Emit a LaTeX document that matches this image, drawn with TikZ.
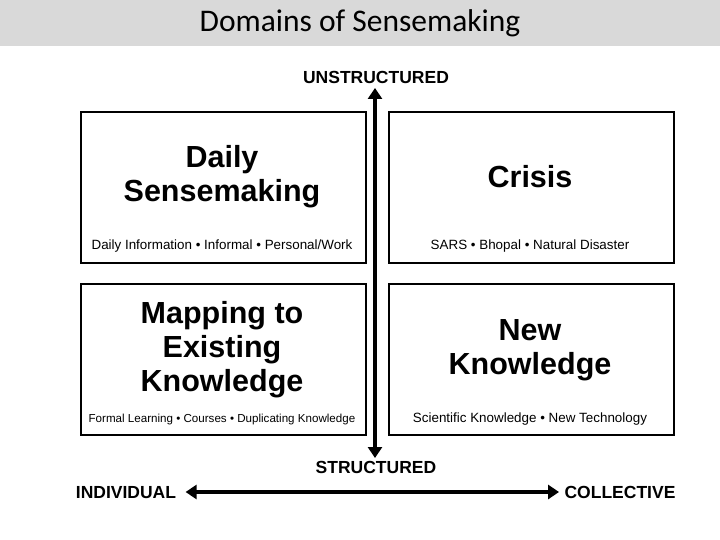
\documentclass[tikz,border=0pt]{standalone}
\usepackage{fontspec}
\setmainfont{Liberation Sans}
\newfontfamily\titlefont{Carlito}
\usetikzlibrary{arrows.meta}
\begin{document}
\begin{tikzpicture}[x=1pt,y=-1pt,
  box/.style={draw=black,line width=1.6pt,minimum width=285pt,minimum height=151pt,anchor=north west,inner sep=0pt},
  head/.style={font=\bfseries\fontsize{30.5}{34}\selectfont,align=center},
  sub/.style={font=\fontsize{13.4}{15}\selectfont},
  axis/.style={font=\bfseries\fontsize{17.5}{20}\selectfont,text depth=0pt,text height=12.5pt},
  arr/.style={line width=4.5pt,{Triangle[length=11pt,width=14pt]}-{Triangle[length=11pt,width=14pt]}}]
\useasboundingbox (0,0) rectangle (720,540);
\fill[gray!30] (0,0) rectangle (720,46);
\node[font=\titlefont\fontsize{31.5}{34}\selectfont] (title) at (360,23) {Domains of Sensemaking};
\node[box] (b1) at (80,111) {};
\node[box] (b2) at (388,111) {};
\node[box] (b3) at (80,283) {};
\node[box] (b4) at (388,283) {};
\node[head] (h1) at (222,177) {Daily\\Sensemaking};
\node[head] (h2) at (530,177) {Crisis};
\node[head] (h3) at (222,350) {Mapping to\\Existing\\Knowledge};
\node[head] (h4) at (530,350) {New\\Knowledge};
\node[sub] (s1) at (222,246) {Daily Information • Informal • Personal/Work};
\node[sub] (s2) at (530,246) {SARS • Bhopal • Natural Disaster};
\node[sub,font=\fontsize{11.6}{14}\selectfont] (s3) at (222,419) {Formal Learning • Courses • Duplicating Knowledge};
\node[sub] (s4) at (530,419) {Scientific Knowledge • New Technology};
\node[axis] (un) at (376,77) {UNSTRUCTURED};
\node[axis] (st) at (376,467) {STRUCTURED};
\node[axis] (ind) at (126,492) {INDIVIDUAL};
\node[axis] (col) at (620,492) {COLLECTIVE};
\coordinate (vt) at (375,88);
\coordinate (vb) at (375,458);
\draw[arr] (vt) -- (vb);
\draw[arr] ([xshift=6pt]ind.east) -- ([xshift=-2pt]col.west);
\end{tikzpicture}
\end{document}
